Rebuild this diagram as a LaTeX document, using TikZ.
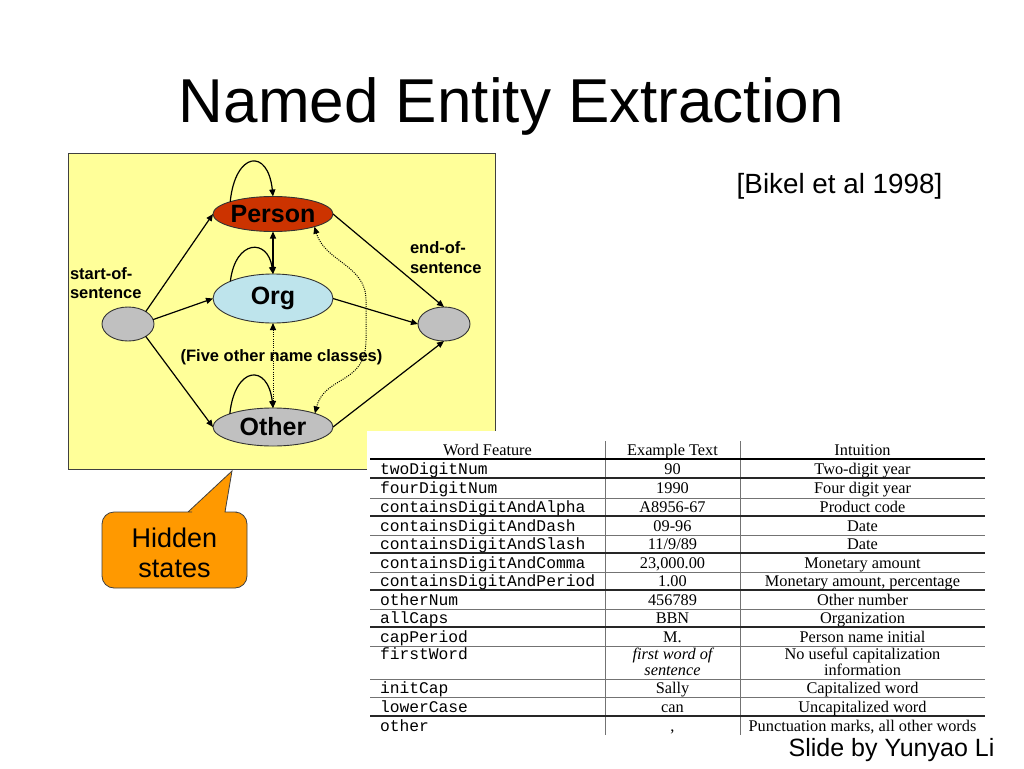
\documentclass[tikz,border=0pt]{standalone}
\usepackage{fontspec}
\setmainfont{Liberation Sans}
\newfontfamily\serifT{Liberation Serif}
\newfontfamily\monoT{Liberation Mono}
\usetikzlibrary{shapes.geometric,arrows.meta}
\definecolor{boxyellow}{HTML}{FFFF99}
\definecolor{personred}{HTML}{CC3300}
\definecolor{orglblue}{HTML}{BEE4EC}
\definecolor{stategray}{HTML}{C0C0C0}
\definecolor{calloutorange}{HTML}{FF9900}
\begin{document}
\begin{tikzpicture}[x=1pt,y=-1pt,
  every node/.style={inner sep=0pt, outer sep=0pt},
  lbl/.style={font=\bfseries\fontsize{16.5}{19.5}\selectfont, align=left},
  statenode/.style={ellipse, draw=black!80, line width=0.9pt, font=\bfseries\fontsize{25}{28}\selectfont},
  tipT/.tip={Triangle[length=7pt,width=6pt]},
  solidarr/.style={line width=1.2pt, -tipT},
  bothsolid/.style={line width=1.2pt, tipT-tipT},
  dotboth/.style={line width=1pt, dash pattern=on 1pt off 1.2pt, tipT-tipT},
  featcell/.style={font=\monoT\fontsize{16.3}{18}\selectfont, anchor=base west},
  txcell/.style={font=\serifT\fontsize{16.3}{18}\selectfont, anchor=base},
  itcell/.style={font=\serifT\itshape\fontsize{16.3}{18}\selectfont, anchor=base},
  thickrule/.style={line width=1.6pt, black!85},
  thinrule/.style={line width=0.8pt, black!55},
]
% page
\fill[white] (0,0) rectangle (1024,768);
\useasboundingbox (0,0) rectangle (1024,768);

% title and texts
\node[anchor=base, font=\fontsize{62}{70}\selectfont] (title) at (511.5,122) {Named Entity Extraction};
\node[anchor=base, font=\fontsize{27.8}{30}\selectfont] (cite) at (839.5,193.5) {[Bikel et al 1998]};
\node[anchor=base, font=\fontsize{25}{28}\selectfont] (credit) at (891.5,756.5) {Slide by Yunyao Li};

% yellow diagram box
\draw[fill=boxyellow, draw=black!75, line width=0.8pt] (68,153) rectangle (495,469);

% states
\node[statenode, fill=personred, minimum width=120pt, minimum height=35pt] (person) at (273,214) {Person};
\node[statenode, fill=orglblue, minimum width=120pt, minimum height=49pt] (org) at (273,298.5) {Org};
\node[statenode, fill=stategray, minimum width=120pt, minimum height=38pt] (other) at (273,427) {Other};
\node[ellipse, draw=black!80, line width=0.9pt, fill=stategray, minimum width=52pt, minimum height=34pt] (start) at (128,324) {};
\node[ellipse, draw=black!80, line width=0.9pt, fill=stategray, minimum width=52pt, minimum height=34pt] (end) at (444,324) {};

% labels
\node[lbl, anchor=west] (startlbl) at (70,283) {start-of-\\sentence};
\node[lbl, anchor=west] (endlbl) at (410,257.5) {end-of-\\sentence};
\node[lbl, anchor=center] (fivelbl) at (281.5,357) {(Five other name classes)};

% solid transitions
\draw[solidarr] (start.35) -- (person.west);
\draw[solidarr] (start.10) -- (org.west);
\draw[solidarr] (start.-35) -- (other.west);
\draw[solidarr] (person.east) -- (end.north);
\draw[solidarr] (org.east) -- (end.west);
\draw[solidarr] (other.east) -- (end.south);
\draw[bothsolid] (person.south) -- (org.north);

% self loops
\draw[solidarr] (person.164) .. controls +(5,-50) and +(-5,-49) .. (person.north);
\draw[solidarr] (org.158) .. controls +(5,-42) and +(-5,-36) .. (org.north);
\draw[solidarr] (other.163) .. controls +(5,-48) and +(-5,-45) .. (other.north);

% dotted transitions
\draw[dotboth] (org.south) -- (other.north);
\draw[dotboth] (person.-17) .. controls (325,262) and (366,265) .. (366,300) -- (366,340) .. controls (366,385) and (325,375) .. (other.18);

% callout
\draw[fill=calloutorange, draw=black!75, line width=0.8pt, rounded corners=12pt]
  (102,550) -- (102,512) -- (180,512) [sharp corners] -- (188,512) -- (232,471) -- (225,512) -- (237,512)
  [rounded corners=12pt] -- (247,512) -- (247,588) -- (102,588) -- cycle;
\node[align=center, font=\fontsize{27}{29.5}\selectfont] (hidden) at (174.5,553) {Hidden\\states};

% table
\fill[white] (367,431) rectangle (990,735);
\begin{scope}
\clip (367,431) rectangle (990,734);
\draw[thinrule] (605,441) -- (605,735);
\draw[thinrule] (740,441) -- (740,735);
\draw[line width=2.6pt, black] (370,459) -- (985,459);
\draw[thickrule] (370,478) -- (985,478);
\draw[thinrule] (370,498) -- (985,498);
\draw[thickrule] (370,516) -- (985,516);
\draw[thinrule] (370,535) -- (985,535);
\draw[thickrule] (370,553) -- (985,553);
\draw[thinrule] (370,572) -- (985,572);
\draw[thickrule] (370,590) -- (985,590);
\draw[thinrule] (370,609) -- (985,609);
\draw[thickrule] (370,627) -- (985,627);
\draw[thinrule] (370,646) -- (985,646);
\draw[thinrule] (370,679) -- (985,679);
\draw[thinrule] (370,697) -- (985,697);
\draw[thickrule] (370,716) -- (985,716);

% header
\node[txcell] (h1) at (487.5,455) {Word Feature};
\node[txcell] (h2) at (672.5,455) {Example Text};
\node[txcell] (h3) at (862.5,455) {Intuition};

% rows
\node[featcell] (f1) at (380,474) {twoDigitNum};
\node[txcell] (e1) at (672.5,474) {90};
\node[txcell] (i1) at (862.5,474) {Two-digit year};

\node[featcell] (f2) at (380,493.5) {fourDigitNum};
\node[txcell] (e2) at (672.5,493.5) {1990};
\node[txcell] (i2) at (862.5,493.5) {Four digit year};

\node[featcell] (f3) at (380,512.5) {containsDigitAndAlpha};
\node[txcell] (e3) at (672.5,512.5) {A8956-67};
\node[txcell] (i3) at (862.5,512.5) {Product code};

\node[featcell] (f4) at (380,531) {containsDigitAndDash};
\node[txcell] (e4) at (672.5,531) {09-96};
\node[txcell] (i4) at (862.5,531) {Date};

\node[featcell] (f5) at (380,549.5) {containsDigitAndSlash};
\node[txcell] (e5) at (672.5,549.5) {11/9/89};
\node[txcell] (i5) at (862.5,549.5) {Date};

\node[featcell] (f6) at (380,568) {containsDigitAndComma};
\node[txcell] (e6) at (672.5,568) {23,000.00};
\node[txcell] (i6) at (862.5,568) {Monetary amount};

\node[featcell] (f7) at (380,586.5) {containsDigitAndPeriod};
\node[txcell] (e7) at (672.5,586.5) {1.00};
\node[txcell] (i7) at (862.5,586.5) {Monetary amount, percentage};

\node[featcell] (f8) at (380,605) {otherNum};
\node[txcell] (e8) at (672.5,605) {456789};
\node[txcell] (i8) at (862.5,605) {Other number};

\node[featcell] (f9) at (380,623.5) {allCaps};
\node[txcell] (e9) at (672.5,623.5) {BBN};
\node[txcell] (i9) at (862.5,623.5) {Organization};

\node[featcell] (f10) at (380,642) {capPeriod};
\node[txcell] (e10) at (672.5,642) {M.};
\node[txcell] (i10) at (862.5,642) {Person name initial};

\node[featcell] (f11) at (380,659) {firstWord};
\node[itcell] (e11a) at (672.5,659) {first word of};
\node[itcell] (e11b) at (672.5,675) {sentence};
\node[txcell] (i11a) at (862.5,659) {No useful capitalization};
\node[txcell] (i11b) at (862.5,675) {information};

\node[featcell] (f12) at (380,693.5) {initCap};
\node[txcell] (e12) at (672.5,693.5) {Sally};
\node[txcell] (i12) at (862.5,693.5) {Capitalized word};

\node[featcell] (f13) at (380,712) {lowerCase};
\node[txcell] (e13) at (672.5,712) {can};
\node[txcell] (i13) at (862.5,712) {Uncapitalized word};

\node[featcell] (f14) at (380,731) {other};
\node[txcell] (e14) at (672.5,731) {,};
\node[txcell] (i14) at (862.5,731) {Punctuation marks, all other words};
\end{scope}
\end{tikzpicture}
\end{document}
